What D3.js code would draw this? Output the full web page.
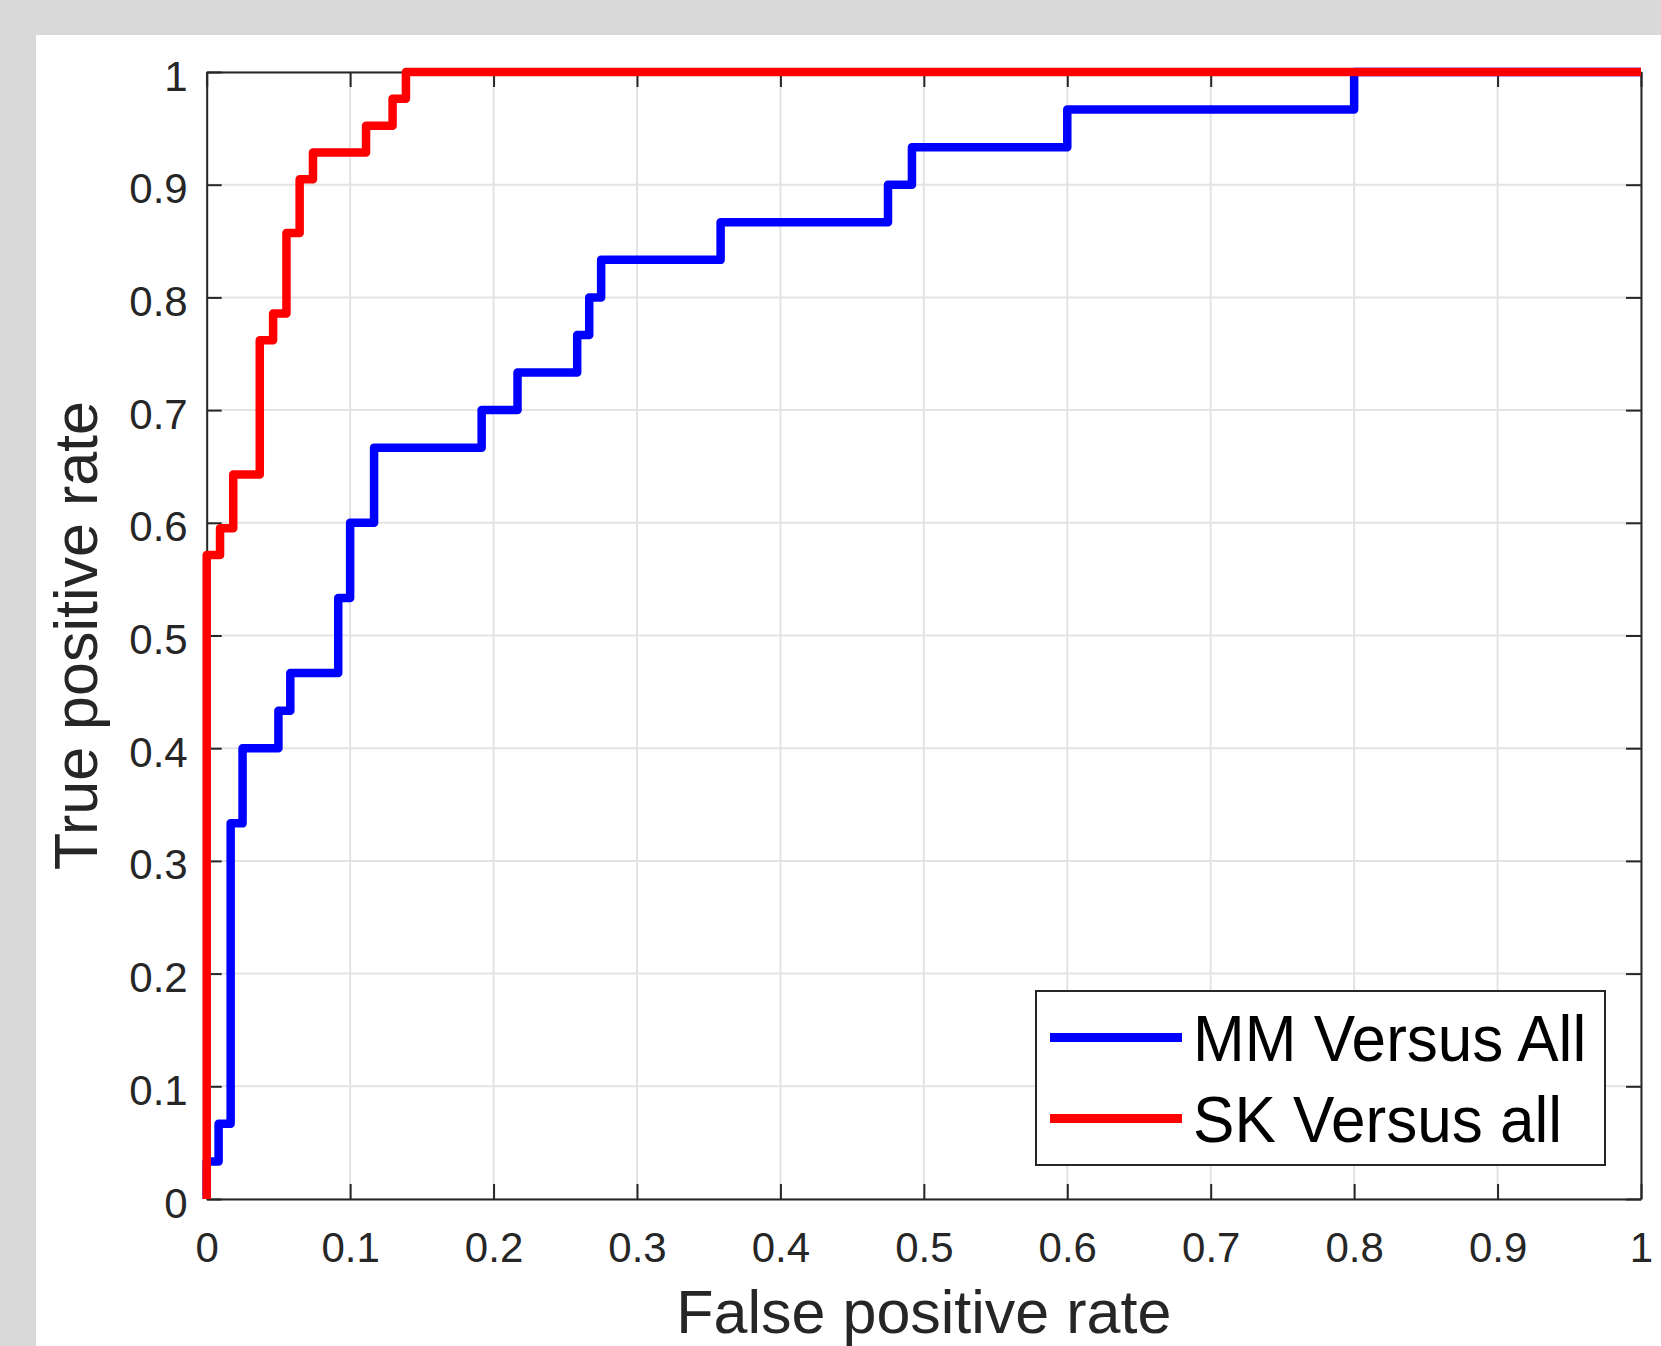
<!DOCTYPE html>
<html>
<head>
<meta charset="utf-8">
<script src="https://cdn.jsdelivr.net/npm/d3@7"></script>
<style>
  html, body { margin: 0; padding: 0; background: #d9d9d9; }
  svg { display: block; }
  text { font-family: "Liberation Sans", Arial, Helvetica, sans-serif; }
</style>
</head>
<body>
<svg id="chart" width="1661" height="1346"></svg>
<script>
// ---- data ----
const xTicks = [0, 0.1, 0.2, 0.3, 0.4, 0.5, 0.6, 0.7, 0.8, 0.9, 1];
const yTicks = [0, 0.1, 0.2, 0.3, 0.4, 0.5, 0.6, 0.7, 0.8, 0.9, 1];
const xTickLabels = ["0", "0.1", "0.2", "0.3", "0.4", "0.5", "0.6", "0.7", "0.8", "0.9", "1"];
const yTickLabels = ["0", "0.1", "0.2", "0.3", "0.4", "0.5", "0.6", "0.7", "0.8", "0.9", "1"];

const seriesNames = ["MM Versus All", "SK Versus all"];
const seriesColors = ["#0000ff", "#ff0000"];

// MM Versus All ROC vertices
const mmFpr = [0, 0, 0.0083, 0.0083, 0.0167, 0.0167, 0.025, 0.025, 0.05, 0.05, 0.0583, 0.0583,
  0.0917, 0.0917, 0.1, 0.1, 0.1167, 0.1167, 0.1917, 0.1917, 0.2167, 0.2167, 0.2583, 0.2583,
  0.2667, 0.2667, 0.275, 0.275, 0.3583, 0.3583, 0.475, 0.475, 0.4917, 0.4917, 0.6, 0.6, 0.8, 0.8, 1];
const mmTpr = [0, 0.0333, 0.0333, 0.0667, 0.0667, 0.3333, 0.3333, 0.4, 0.4, 0.4333, 0.4333, 0.4667,
  0.4667, 0.5333, 0.5333, 0.6, 0.6, 0.6667, 0.6667, 0.7, 0.7, 0.7333, 0.7333, 0.7667,
  0.7667, 0.8, 0.8, 0.8333, 0.8333, 0.8667, 0.8667, 0.9, 0.9, 0.9333, 0.9333, 0.9667, 0.9667, 1, 1];

// SK Versus all ROC vertices
const skFpr = [0, 0, 0.0093, 0.0093, 0.0185, 0.0185, 0.037, 0.037, 0.0463, 0.0463, 0.0556, 0.0556,
  0.0648, 0.0648, 0.0741, 0.0741, 0.1111, 0.1111, 0.1296, 0.1296, 0.1389, 0.1389, 1];
const skTpr = [0, 0.5714, 0.5714, 0.5952, 0.5952, 0.6429, 0.6429, 0.7619, 0.7619, 0.7857, 0.7857, 0.8571,
  0.8571, 0.9048, 0.9048, 0.9286, 0.9286, 0.9524, 0.9524, 0.9762, 0.9762, 1, 1];

const xLabel = "False positive rate";
const yLabel = "True positive rate";

// ---- layout ----
const svg = d3.select("#chart");
const L = 206.7, R = 1641, T = 72, B = 1199;
const axisColor = "#262626";

svg.append("rect").attr("x", 0).attr("y", 0).attr("width", 1661).attr("height", 1346).attr("fill", "#d9d9d9");
svg.append("rect").attr("x", 36).attr("y", 35).attr("width", 1661 - 36).attr("height", 1346 - 35).attr("fill", "#ffffff");

const x = d3.scaleLinear().domain([0, 1]).range([L, R]);
const y = d3.scaleLinear().domain([0, 1]).range([B, T]);

// grid
const grid = svg.append("g");
grid.selectAll("line.gx").data(xTicks).join("line")
  .attr("x1", d => x(d)).attr("x2", d => x(d)).attr("y1", T).attr("y2", B)
  .attr("stroke", "#e3e3e3").attr("stroke-width", 2);
grid.selectAll("line.gy").data(yTicks).join("line")
  .attr("x1", L).attr("x2", R).attr("y1", d => y(d)).attr("y2", d => y(d))
  .attr("stroke", "#e3e3e3").attr("stroke-width", 2);

// axes
function styleAxis(g) {
  g.select(".domain").attr("stroke", axisColor).attr("stroke-width", 2);
  g.selectAll(".tick line").attr("stroke", axisColor).attr("stroke-width", 2);
  g.selectAll(".tick text").attr("fill", axisColor).style("font-size", "42px")
    .style("font-family", '"Liberation Sans", Arial, Helvetica, sans-serif');
}
const fmtX = (d, i) => xTickLabels[i];
const fmtY = (d, i) => yTickLabels[i];

const gB = svg.append("g").attr("transform", `translate(0,${B})`)
  .call(d3.axisBottom(x).tickValues(xTicks).tickFormat(fmtX).tickSizeInner(-15).tickSizeOuter(0).tickPadding(33));
styleAxis(gB);
const gT = svg.append("g").attr("transform", `translate(0,${T})`)
  .call(d3.axisTop(x).tickValues(xTicks).tickFormat("").tickSizeInner(-15).tickSizeOuter(0));
styleAxis(gT);
const gL = svg.append("g").attr("transform", `translate(${L},0)`)
  .call(d3.axisLeft(y).tickValues(yTicks).tickFormat(fmtY).tickSizeInner(-15).tickSizeOuter(0).tickPadding(19));
styleAxis(gL);
gL.selectAll(".tick text").attr("dy", "0.43em");
const gR = svg.append("g").attr("transform", `translate(${R},0)`)
  .call(d3.axisRight(y).tickValues(yTicks).tickFormat("").tickSizeInner(-15).tickSizeOuter(0));
styleAxis(gR);

// curves
const line = d3.line().x(d => x(d[0])).y(d => y(d[1]));
const mmPts = mmFpr.map((v, i) => [v, mmTpr[i]]);
const skPts = skFpr.map((v, i) => [v, skTpr[i]]);
[mmPts, skPts].forEach((pts, k) => {
  svg.append("path").datum(pts).attr("d", line)
    .attr("fill", "none").attr("stroke", seriesColors[k]).attr("stroke-width", 8.5)
    .attr("stroke-linejoin", "round").attr("stroke-linecap", "butt");
});

// axis labels
svg.append("text").attr("x", (L + R) / 2).attr("y", 1333).attr("text-anchor", "middle")
  .attr("fill", axisColor).style("font-size", "61px").text(xLabel);
svg.append("text").attr("transform", `translate(97,${(T + B) / 2}) rotate(-90)`).attr("text-anchor", "middle")
  .attr("fill", axisColor).style("font-size", "61px").text(yLabel);

// legend
const lg = svg.append("g");
lg.append("rect").attr("x", 1036).attr("y", 991).attr("width", 569).attr("height", 174)
  .attr("fill", "#ffffff").attr("stroke", axisColor).attr("stroke-width", 2);
const rowLine = [1037.5, 1118.5];
const rowBase = [1061, 1142];
seriesNames.forEach((name, k) => {
  lg.append("line").attr("x1", 1050).attr("x2", 1182).attr("y1", rowLine[k]).attr("y2", rowLine[k])
    .attr("stroke", seriesColors[k]).attr("stroke-width", 9);
  lg.append("text").attr("transform", `translate(1193,${rowBase[k]}) scale(0.955,1)`)
    .attr("fill", "#000000").style("font-size", "65px").text(name);
});
</script>
</body>
</html>
